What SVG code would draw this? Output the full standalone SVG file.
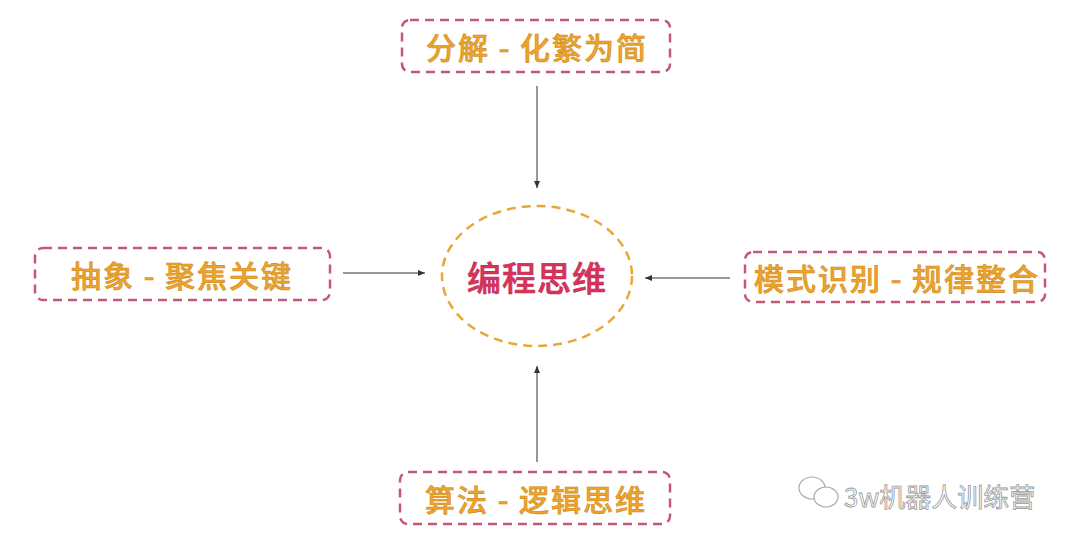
<svg xmlns="http://www.w3.org/2000/svg" width="1080" height="544" viewBox="0 0 1080 544">
<style>
.box{fill:none;stroke:#C4587A;stroke-width:2.5;stroke-dasharray:9 6}
.t{font-family:"Noto Sans CJK SC",sans-serif;font-size:30px;font-weight:500;letter-spacing:2px;fill:#EDA42A;stroke:#D08A20;stroke-width:0.6;text-anchor:middle;dominant-baseline:central}
.c{stroke:#333;stroke-width:1;fill:none;marker-end:url(#a)}
</style>
<defs><marker id="a" markerWidth="8" markerHeight="8" refX="7" refY="4" orient="auto" markerUnits="userSpaceOnUse"><path d="M0,1 L7,4 L0,7 z" fill="#333"/></marker></defs>
<rect width="1080" height="544" fill="#fff"/>
<g id="center"><ellipse cx="537" cy="276" rx="95" ry="70" fill="none" stroke="#E8A838" stroke-width="2.5" stroke-dasharray="9 6"/><text x="537" y="276" class="t" style="fill:#D9335C;stroke:#C02850;font-size:34px;letter-spacing:1px">编程思维</text></g>
<g id="top"><rect class="box" x="402" y="20" width="268" height="52" rx="8"/><text class="t" x="537" y="46">分解 - 化繁为简</text></g>
<g id="left"><rect class="box" x="35" y="248" width="295" height="52" rx="8"/><text class="t" x="182" y="274">抽象 - 聚焦关键</text></g>
<g id="right"><rect class="box" x="745" y="252" width="300" height="50" rx="8"/><text class="t" x="897" y="277">模式识别 - 规律整合</text></g>
<g id="bottom"><rect class="box" x="400" y="472" width="270" height="52" rx="8"/><text class="t" x="536" y="498">算法 - 逻辑思维</text></g>
<g id="connectors">
<path class="c" d="M537,86 V188"/>
<path class="c" d="M537,462 V366"/>
<path class="c" d="M343,273 H425"/>
<path class="c" d="M730,278 H645"/>
</g>
<g id="watermark" fill="none" stroke="#aaa" stroke-width="1.2">
<ellipse cx="812" cy="488" rx="13" ry="11"/><ellipse cx="826" cy="497" rx="12" ry="10" fill="#fff"/>
<text x="844" y="495" style="font-family:'Noto Sans CJK SC',sans-serif;font-size:26px;fill:#fff;stroke:#999;stroke-width:0.8;dominant-baseline:central">3w机器人训练营</text>
</g>
</svg>
